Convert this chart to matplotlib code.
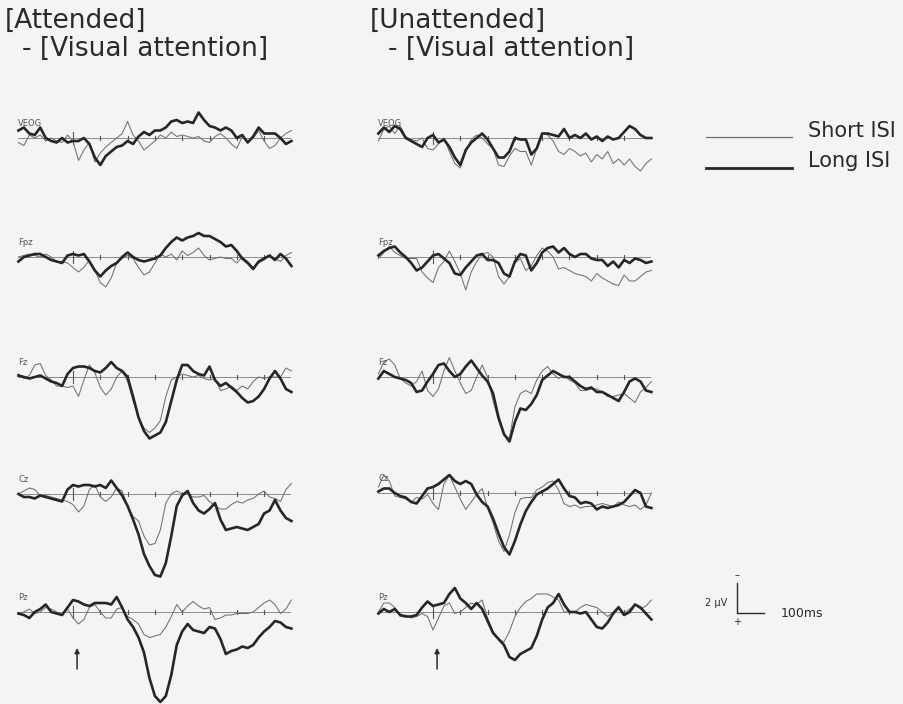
import numpy as np
import matplotlib
matplotlib.use("Agg")
import matplotlib.pyplot as plt

# Grand-average ERP waveforms, Visual attention subtraction, µV (negative up)
time_ms = np.arange(-200, 801, 20)
channels = ["VEOG", "Fpz", "Fz", "Cz", "Pz"]
tick_ms = np.arange(0, 800, 100)

# ---- Attended - Visual attention ----
att_veog_short = [0.3, 0.5, -0.2, 0.0, -0.2, 0.2, 0.0, 0.2, 0.3, -0.2, 0.2, 1.5, 0.8, 0.3, 1.6, 1.0, 0.6, 0.3, 0.0, -0.3,
                  -1.1, -0.2, 0.2, 0.8, 0.5, 0.2, -0.2, 0.0, -0.4, -0.1, -0.2, -0.1, 0.0, -0.1, 0.2, 0.3, -0.1, -0.3, 0.0, 0.4,
                  0.7, -0.1, 0.3, 0.0, -0.5, 0.2, 0.7, 0.5, 0.0, -0.3, -0.5]
att_veog_long = [-0.5, -0.7, -0.3, -0.2, -0.7, 0.0, 0.2, 0.3, 0.0, 0.3, 0.2, 0.2, 0.0, 0.4, 1.3, 1.8, 1.2, 0.9, 0.6, 0.5,
                 0.2, 0.4, -0.1, -0.4, -0.2, -0.5, -0.5, -0.7, -1.1, -1.2, -1.0, -1.1, -1.0, -1.7, -1.2, -0.8, -0.7, -0.5, -0.7, -0.5,
                 0.0, -0.2, 0.3, -0.1, -0.7, -0.3, -0.3, -0.3, 0.0, 0.4, 0.2]
att_fpz_short = [0.0, -0.1, -0.2, -0.1, 0.0, -0.2, 0.0, 0.3, 0.3, 0.4, 0.7, 1.0, 0.7, 0.2, 0.9, 1.7, 2.0, 1.4, 0.4, 0.1,
                 -0.1, 0.1, 0.7, 1.2, 1.0, 0.4, -0.2, 0.0, -0.2, 0.2, -0.4, -0.1, -0.3, -0.6, -0.1, 0.2, 0.1, 0.0, 0.1, 0.1,
                 0.4, 0.0, 0.3, 0.7, 0.4, 0.2, -0.1, 0.1, 0.3, -0.1, -0.3]
att_fpz_long = [0.3, 0.0, -0.1, -0.2, -0.2, 0.0, 0.2, 0.3, 0.4, -0.1, -0.2, -0.1, -0.2, 0.3, 0.9, 1.3, 0.9, 0.6, 0.4, 0.0,
                -0.3, 0.0, 0.2, 0.3, 0.2, 0.1, -0.1, -0.6, -1.0, -1.3, -1.1, -1.3, -1.4, -1.6, -1.4, -1.4, -1.2, -1.0, -0.7, -0.8,
                -0.4, 0.1, 0.4, 0.8, 0.3, 0.1, -0.1, 0.2, -0.2, 0.1, 0.6]
att_fz_short = [-0.2, 0.1, -0.1, -0.8, -0.9, -0.1, 0.2, 0.6, 0.6, 0.7, 0.6, 1.3, 0.2, -0.8, -0.3, 0.7, 1.2, 0.8, 0.0, -0.4,
                0.3, 1.6, 2.7, 3.4, 3.7, 3.4, 2.9, 1.3, 0.2, 0.0, -0.2, -0.1, 0.0, -0.1, 0.1, 0.2, 0.1, 0.9, 0.8, 0.6,
                0.9, 0.6, 0.8, 0.3, 0.0, 0.1, 0.0, 0.0, 0.0, -0.6, -0.4]
att_fz_long = [-0.1, 0.0, 0.1, 0.0, -0.1, 0.1, 0.3, 0.4, 0.6, -0.2, -0.6, -0.7, -0.7, -0.6, -0.4, -0.3, -0.6, -1.0, -0.6, -0.4,
               0.0, 1.3, 2.7, 3.6, 4.1, 3.9, 3.7, 3.0, 1.6, 0.2, -0.8, -0.8, -0.4, -0.2, -0.1, -0.7, 0.2, 0.6, 0.4, 0.7,
               1.0, 1.4, 1.7, 1.6, 1.3, 0.8, 0.1, -0.4, 0.1, 0.8, 1.0]
att_cz_short = [0.0, -0.2, -0.4, -0.3, 0.1, 0.1, 0.2, 0.3, 0.4, 0.5, 0.7, 1.2, 0.8, -0.3, -0.6, 0.2, 0.5, 0.2, -0.4, -0.2,
                0.8, 1.5, 1.8, 2.8, 3.4, 3.3, 2.4, 0.6, 0.0, -0.2, 0.0, 0.0, 0.2, 0.2, 0.1, 0.5, 0.8, 1.0, 1.0, 0.7,
                0.5, 0.6, 0.4, 0.3, 0.0, -0.2, 0.2, 0.3, 0.5, -0.3, -0.7]
att_cz_long = [0.0, 0.2, 0.2, 0.3, 0.1, 0.2, 0.3, 0.4, 0.5, -0.3, -0.6, -0.5, -0.6, -0.6, -0.5, -0.6, -0.4, -0.9, -0.4, 0.1,
               0.8, 1.7, 2.7, 4.0, 4.8, 5.4, 5.5, 4.6, 2.8, 0.8, 0.1, -0.2, 0.6, 1.1, 1.3, 1.0, 0.6, 1.7, 2.4, 2.3,
               2.2, 2.3, 2.4, 2.2, 2.0, 1.3, 1.1, 0.4, 1.1, 1.6, 1.8]
att_pz_short = [0.1, 0.0, -0.2, 0.1, 0.0, -0.3, -0.2, 0.0, 0.2, -0.2, 0.4, 0.8, 0.5, -0.3, -0.5, 0.0, 0.4, 0.4, -0.2, -0.3,
                0.3, 0.5, 0.8, 1.5, 1.7, 1.6, 1.5, 1.0, 0.3, -0.5, 0.0, -0.4, -0.7, -0.4, -0.2, -0.3, 0.5, 0.4, 0.2, 0.2,
                0.1, 0.1, 0.1, 0.0, -0.3, -0.6, -0.8, -0.5, 0.1, -0.2, -0.8]
att_pz_long = [0.1, 0.2, 0.4, 0.0, -0.2, -0.5, 0.0, 0.1, 0.2, -0.3, -0.8, -0.7, -0.5, -0.4, -0.6, -0.6, -0.6, -0.5, -1.0, -0.3,
               0.5, 1.0, 1.7, 2.7, 4.4, 5.6, 6.0, 5.6, 4.2, 2.2, 1.3, 0.8, 1.2, 1.3, 1.4, 1.0, 1.1, 1.8, 2.8, 2.6,
               2.5, 2.3, 2.4, 2.2, 1.7, 1.3, 1.0, 0.6, 0.7, 1.0, 1.1]

# ---- Unattended - Visual attention ----
una_veog_short = [0.2, -0.6, -0.8, -0.3, -0.8, -0.1, 0.1, 0.2, 0.0, 0.7, 0.8, 0.4, 0.0, 0.9, 1.7, 2.0, 0.9, 0.1, -0.2, 0.0,
                  0.4, 0.7, 1.8, 1.9, 1.2, 0.7, 0.9, 0.9, 1.8, 0.7, -0.3, -0.2, 0.2, 0.9, 1.1, 0.7, 0.9, 1.2, 1.0, 1.6,
                  1.1, 1.4, 0.9, 1.7, 1.4, 1.8, 1.4, 1.9, 2.2, 1.7, 1.4]
una_veog_long = [-0.3, -0.7, -0.4, -0.8, -0.6, 0.0, 0.2, 0.4, 0.6, 0.0, -0.2, 0.3, 0.1, 0.6, 1.3, 1.8, 0.8, 0.3, 0.0, -0.3,
                 0.1, 0.7, 1.3, 1.3, 0.9, 0.0, 0.1, 0.1, 1.1, 0.7, -0.3, -0.3, -0.2, -0.1, -0.6, 0.0, -0.2, 0.0, -0.3, 0.1,
                 -0.1, 0.2, -0.1, 0.1, 0.0, -0.4, -0.8, -0.6, -0.2, 0.0, 0.0]
una_fpz_short = [0.1, -0.3, -0.7, -0.3, -0.1, 0.1, 0.1, 0.1, 1.0, 1.4, 1.7, 0.7, 0.3, -0.4, 0.3, 1.1, 2.2, 1.0, 0.3, -0.2,
                 -0.3, 0.0, 1.3, 1.8, 1.3, 0.4, 0.1, 0.9, 0.6, -0.1, -0.6, -0.4, 0.0, 0.8, 0.7, 0.9, 1.1, 1.2, 1.3, 1.6,
                 1.1, 1.4, 1.6, 1.8, 1.9, 1.2, 1.6, 1.6, 1.3, 1.0, 0.9]
una_fpz_long = [-0.1, -0.4, -0.6, -0.7, -0.3, 0.0, 0.4, 0.9, 0.7, 0.3, -0.1, -0.2, 0.1, 0.4, 1.1, 1.2, 0.7, 0.3, -0.1, -0.2,
                0.2, 0.2, 0.4, 1.1, 1.3, 0.3, -0.2, -0.1, 0.9, 0.4, -0.3, -0.6, -0.7, -0.3, -0.6, -0.2, 0.0, -0.2, -0.2, 0.1,
                0.2, 0.2, 0.6, 0.3, 0.7, 0.2, 0.4, 0.1, 0.2, 0.4, 0.3]
una_fz_short = [-0.2, -1.0, -1.2, -0.8, 0.1, 0.4, 0.6, 0.3, -0.4, 0.9, 1.3, 0.8, -0.4, -1.3, -0.4, 0.4, 1.1, 0.9, 0.0, -0.8,
                0.0, 1.6, 2.9, 3.9, 4.1, 2.0, 1.1, 0.9, 1.1, 0.2, -0.4, -0.7, -0.2, 0.1, -0.1, 0.2, 0.4, 0.9, 0.9, 0.8,
                0.8, 1.0, 1.3, 1.3, 1.2, 1.1, 1.4, 1.7, 1.0, 0.7, 0.3]
una_fz_long = [0.1, -0.4, -0.2, 0.0, 0.1, 0.2, 0.4, 1.0, 0.9, 0.3, -0.2, -0.8, -0.9, -0.4, 0.0, -0.2, -0.7, -1.1, -0.6, -0.1,
               0.3, 1.1, 2.7, 3.8, 4.3, 3.0, 2.1, 2.2, 1.8, 1.2, 0.2, -0.1, -0.4, -0.2, 0.0, 0.0, 0.3, 0.6, 0.8, 0.7,
               1.0, 1.0, 1.2, 1.4, 1.6, 1.0, 0.3, 0.1, 0.3, 0.9, 1.0]
una_cz_short = [-0.4, -1.2, -0.8, 0.2, 0.3, 0.4, 0.6, 0.3, 0.4, 0.1, 0.7, 1.1, -0.6, -1.2, -0.4, 0.4, 1.1, 0.6, 0.1, -0.3,
                1.0, 2.0, 3.2, 3.9, 2.8, 1.3, 0.4, 0.3, 0.3, -0.2, -0.4, -0.7, -0.8, -0.2, 0.7, 0.9, 0.8, 1.0, 0.9, 0.9,
                0.8, 0.7, 0.8, 0.9, 0.6, 0.8, 0.9, 0.8, 1.1, 0.8, 0.0]
una_cz_long = [-0.1, -0.3, -0.3, 0.0, 0.2, 0.3, 0.6, 0.7, 0.2, -0.3, -0.4, -0.6, -0.9, -1.2, -0.8, -0.6, -0.8, -0.6, 0.1, 0.6,
               0.9, 1.7, 2.7, 3.6, 4.1, 3.2, 2.1, 1.2, 0.6, 0.1, -0.1, -0.3, -0.6, -0.9, -0.3, 0.2, 0.3, 0.7, 0.6, 0.7,
               1.1, 0.9, 1.0, 0.9, 0.8, 0.6, 0.2, -0.2, 0.0, 0.9, 1.0]
una_pz_short = [0.0, -0.6, -0.6, -0.3, 0.3, 0.2, 0.4, 0.3, 0.1, 0.3, 1.2, 0.4, -0.4, -0.6, 0.1, 0.0, -0.3, -0.6, -0.5, -0.8,
                0.4, 1.3, 1.8, 2.0, 1.3, 0.3, -0.3, -0.7, -0.9, -1.2, -1.2, -1.2, -1.0, -0.8, 0.0, 0.0, 0.0, -0.3, -0.5, -0.4,
                -0.3, 0.0, 0.3, 0.0, -0.4, 0.1, -0.2, -0.5, -0.2, -0.4, -0.8]
una_pz_long = [0.1, -0.2, 0.0, -0.2, 0.2, 0.3, 0.3, 0.2, -0.3, -0.7, -0.4, -0.5, -0.6, -1.2, -1.6, -0.9, -0.6, -0.2, -0.6, -0.2,
               0.6, 1.4, 1.8, 2.2, 3.0, 3.2, 2.8, 2.6, 2.4, 1.6, 0.5, -0.3, -0.6, -1.2, -0.5, 0.0, 0.0, 0.1, 0.0, 0.5,
               1.0, 1.1, 0.7, 0.1, -0.3, 0.2, 0.0, -0.5, -0.3, 0.1, 0.5]

attended = [(att_veog_short, att_veog_long), (att_fpz_short, att_fpz_long), (att_fz_short, att_fz_long),
            (att_cz_short, att_cz_long), (att_pz_short, att_pz_long)]
unattended = [(una_veog_short, una_veog_long), (una_fpz_short, una_fpz_long), (una_fz_short, una_fz_long),
              (una_cz_short, una_cz_long), (una_pz_short, una_pz_long)]

# ---- figure geometry (pixels) ----
W, H = 904, 704
PX_PER_MS = 0.273
PX_PER_UV = 15.0
BG = "#f4f4f2"
INK = "#2a2a2a"
THIN_C = "#707070"
THICK_C = "#262626"

fig = plt.figure(figsize=(W / 100, H / 100), dpi=100, facecolor=BG)


def panel_axes(x_left, y_base, half_uv=4.0):
    """Axes whose x spans -200..800 ms starting at pixel x_left, baseline at pixel y_base."""
    w = 1000 * PX_PER_MS
    h = 2 * half_uv * PX_PER_UV
    ax = fig.add_axes([x_left / W, 1 - (y_base + h / 2) / H, w / W, h / H])
    ax.set_xlim(-200, 800)
    ax.set_ylim(half_uv, -half_uv)   # negative up
    ax.axis("off")
    return ax


columns = [(18.4, [138, 257, 377, 494, 612], attended),
           (378.4, [138, 257, 377, 493, 612], unattended)]

for x_left, bases, data in columns:
    for ch, yb, (short, long_) in zip(channels, bases, data):
        ax = panel_axes(x_left, yb)
        ax.plot([-200, 800], [0, 0], color="#7a7a7a", lw=0.6, zorder=1)
        for tk in tick_ms:
            hlen = 0.38 if tk == 0 else 0.14
            ax.plot([tk, tk], [-hlen, hlen], color="#555555", lw=0.8, zorder=1)
        ax.plot(time_ms, short, color=THIN_C, lw=0.75, zorder=2, clip_on=False)
        ax.plot(time_ms, long_, color=THICK_C, lw=1.9, zorder=3, clip_on=False,
                solid_joinstyle="round")
        ax.text(-200, -0.95, ch.upper() if ch == "VEOG" else ch, fontsize=6, color="#555555",
                ha="left", va="center", clip_on=False)
        if ch == "Pz":
            ax.annotate("", xy=(15, 2.4), xytext=(15, 3.8),
                        arrowprops=dict(arrowstyle="-|>", color=INK, lw=1.1,
                                        mutation_scale=7, shrinkA=0, shrinkB=0),
                        annotation_clip=False)

# ---- headings ----
title_kw = dict(color=INK, fontsize=19, ha="left", va="center", family="DejaVu Sans")
fig.text(5 / W, 1 - 21 / H, "[Attended]", **title_kw)
fig.text(22 / W, 1 - 49 / H, "- [Visual attention]", **title_kw)
fig.text(370 / W, 1 - 21 / H, "[Unattended]", **title_kw)
fig.text(388 / W, 1 - 49 / H, "- [Visual attention]", **title_kw)

# ---- legend ----
leg = fig.add_axes([0, 0, 1, 1], facecolor="none")
leg.set_xlim(0, W)
leg.set_ylim(H, 0)
leg.axis("off")
leg.plot([706, 792], [137, 137], color=THIN_C, lw=0.9)
leg.plot([706, 792], [168, 168], color=THICK_C, lw=2.0)
leg.text(808, 131, "Short ISI", color=INK, fontsize=15, ha="left", va="center")
leg.text(808, 161, "Long ISI", color=INK, fontsize=15, ha="left", va="center")

# ---- calibration bar: 2 µV / 100 ms ----
cal = panel_axes(737 - 200 * PX_PER_MS, 613)
cal.plot([0, 0, 100], [-2, 0, 0], color=INK, lw=1.0)
cal.text(0, -2.55, "\u2013", color=INK, fontsize=7, ha="center", va="center")
cal.text(0, 0.6, "+", color=INK, fontsize=7, ha="center", va="center")
cal.text(-35, -0.7, "2 \u00b5V", color=INK, fontsize=7, ha="right", va="center")
cal.text(160, 0.05, "100ms", color=INK, fontsize=9, ha="left", va="center")

fig.savefig("out.png", dpi=100, facecolor=BG)
